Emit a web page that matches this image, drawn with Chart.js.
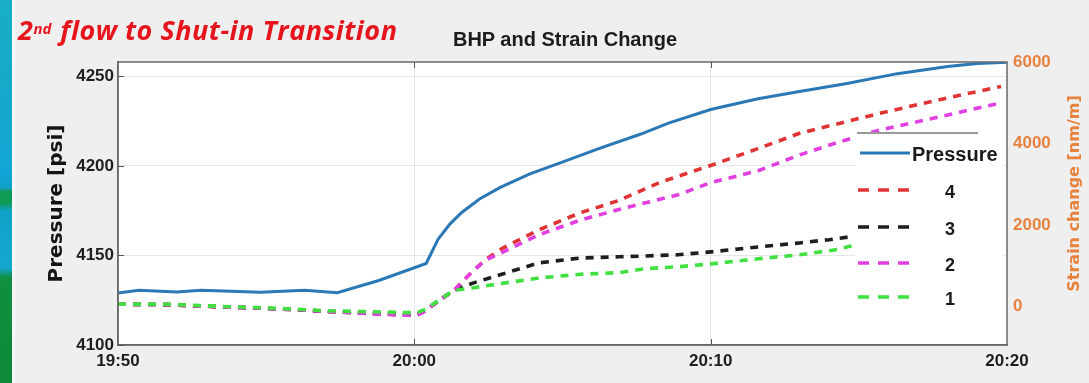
<!DOCTYPE html>
<html>
<head>
<meta charset="utf-8">
<script src="https://cdn.jsdelivr.net/npm/chart.js@4.4.1/dist/chart.umd.min.js"></script>
<style>
  html, body { margin: 0; padding: 0; background: #efefef; }
  #wrap { position: relative; width: 1089px; height: 383px; overflow: hidden; background: #efefef; }
  #strip {
    position: absolute; left: 0; top: 0; width: 12px; height: 383px;
    background: linear-gradient(to bottom, #17aec6 0%, #15a8cc 30%, #12a6d6 45%, #10a0c8 49%, #0f9a56 50%, #0f9a56 53%, #10a3c6 55%, #14a6d0 70%, #0f8f40 72.5%, #0e8a38 100%);
  }
  #edge { position: absolute; left: 12px; top: 0; width: 3px; height: 383px; background: #f8f8f8; }
  #slideTitle {
    position: absolute; left: 18px; top: 16px; white-space: nowrap;
    font: italic bold 27px "Open Sans", "Liberation Sans", sans-serif; line-height: 27px;
    color: #e6141d; letter-spacing: 0.5px;
  }
  #slideTitle sup { font-size: 15px; position: relative; top: -1px; vertical-align: top; margin-right: 9px; letter-spacing: 0; }
  #chartTitle {
    position: absolute; left: 565px; top: 30px; transform: translateX(-50%); white-space: nowrap;
    font: bold 20px "Liberation Sans", Arial, sans-serif; line-height: 19px; color: #1c1c1c;
  }
  canvas { position: absolute; left: 0; top: 0; }
</style>
</head>
<body>
<div id="wrap">
  <canvas id="c" width="1089" height="383"></canvas>
  <div id="strip"></div>
  <div id="edge"></div>
  <div id="slideTitle">2<sup>nd</sup>flow to Shut-in Transition</div>
  <div id="chartTitle">BHP and Strain Change</div>
</div>
<script>
// Time axis: minutes after 19:50
const timeLabels = ['19:50', '20:00', '20:10', '20:20'];
const timeTicks = [0, 10, 20, 30];
const pressureTicks = [4100, 4150, 4200, 4250];
const strainTicks = [0, 2000, 4000, 6000];

// Bottom-hole pressure [psi]
const pressureTime = [0, 0.7, 2.0, 2.8, 4.8, 6.3, 7.4, 8.8, 10.4, 10.8, 11.2, 11.6, 12.2, 12.9, 13.9, 14.9, 16.2, 17.6, 18.6, 20.0, 21.6, 23.0, 24.6, 26.3, 28.0, 29.0, 30.0];
const pressurePsi  = [4129.0, 4130.6, 4129.6, 4130.5, 4129.5, 4130.6, 4129.2, 4136.0, 4145.5, 4159.0, 4167.5, 4174.0, 4181.5, 4188.0, 4195.5, 4201.5, 4209.5, 4217.5, 4224.0, 4231.5, 4237.5, 4241.5, 4246.0, 4251.5, 4255.5, 4257.2, 4257.8];

// Strain change [nm/m] per gauge
const strainTime4 = [0, 1.7, 2.8, 4.8, 5.9, 6.9, 7.9, 8.9, 9.6, 10.1, 10.4, 10.8, 11.35, 11.85, 12.4, 13.0, 14.2, 15.6, 16.9, 18.3, 20.0, 21.5, 23.0, 25.7, 28.0, 29.8];
const strain4     = [55, 45, 10, -40, -75, -115, -150, -180, -200, -205, -90, 130, 400, 780, 1150, 1440, 1880, 2300, 2600, 3050, 3460, 3850, 4250, 4740, 5120, 5400];

const strainTime3 = [0, 1.7, 2.8, 4.8, 5.9, 6.9, 7.9, 8.9, 9.6, 10.1, 10.4, 10.8, 11.35, 12.0, 12.9, 14.2, 15.6, 16.9, 17.8, 18.9, 20.0, 21.6, 23.0, 24.0, 24.8];
const strain3     = [55, 45, 10, -40, -75, -115, -150, -180, -200, -205, -90, 130, 400, 580, 780, 1070, 1190, 1220, 1240, 1270, 1340, 1460, 1560, 1640, 1720];

const strainTime2 = [0, 1.7, 2.8, 4.8, 5.9, 6.9, 7.9, 8.9, 9.6, 10.1, 10.4, 10.8, 11.35, 11.85, 12.4, 13.0, 14.2, 15.6, 16.9, 18.0, 18.9, 20.0, 21.6, 23.0, 24.3, 25.7, 28.0, 29.8];
const strain2     = [55, 45, 10, -40, -75, -115, -150, -190, -215, -215, -95, 130, 400, 780, 1140, 1340, 1760, 2120, 2380, 2580, 2740, 3040, 3330, 3720, 4030, 4330, 4700, 5000];

const strainTime1 = [0, 1.7, 2.8, 4.3, 4.8, 5.9, 6.9, 7.9, 8.9, 9.6, 10.1, 10.4, 10.8, 11.35, 12.0, 12.9, 14.2, 15.6, 16.9, 17.8, 18.9, 20.0, 21.6, 23.0, 24.3, 24.8];
const strain1     = [60, 55, 22, -20, -29, -61, -100, -120, -135, -150, -150, -60, 140, 400, 460, 560, 700, 790, 830, 930, 975, 1045, 1170, 1270, 1400, 1500];

const legendOrder = ['Pressure', '4', '3', '2', '1'];

function pts(ts, vs) { return ts.map((t, i) => ({ x: t, y: vs[i] })); }

const dashed = { borderWidth: 3.6, borderDash: [8, 7], pointRadius: 0, tension: 0, yAxisID: 'yS', fill: false };

// First dataset is painted last, so it ends up on top
const datasets = [
  { label: 'Pressure', data: pts(pressureTime, pressurePsi), borderColor: '#2b78b6', borderWidth: 3, pointRadius: 0, tension: 0, yAxisID: 'yP', fill: false },
  Object.assign({ label: '1', data: pts(strainTime1, strain1), borderColor: '#3fe03f' }, dashed),
  Object.assign({ label: '2', data: pts(strainTime2, strain2), borderColor: '#e23fe2' }, dashed),
  Object.assign({ label: '3', data: pts(strainTime3, strain3), borderColor: '#1e1e1e' }, dashed),
  Object.assign({ label: '4', data: pts(strainTime4, strain4), borderColor: '#e03434' }, dashed)
];

const tickFont = { family: '"Liberation Sans", Arial, sans-serif', weight: 'bold', size: 17 };
const strainColor = '#e8823f';
const strainTitle = 'Strain change [nm/m]';
const plainNumber = v => String(v);

const framePlugin = {
  id: 'frame',
  beforeDraw(chart) {
    const { ctx, chartArea: a } = chart;
    ctx.save();
    ctx.fillStyle = '#ffffff';
    ctx.fillRect(a.left, a.top, a.right - a.left, a.bottom - a.top);
    ctx.restore();
  },
  afterDatasetsDraw(chart) {
    const { ctx, chartArea: a, scales } = chart;
    ctx.save();
    // box around the plot
    ctx.strokeStyle = '#6a6a6a';
    ctx.lineWidth = 1.5;
    ctx.strokeRect(a.left, a.top, a.right - a.left, a.bottom - a.top);
    // inward tick marks
    ctx.strokeStyle = '#555';
    ctx.lineWidth = 1;
    ctx.beginPath();
    pressureTicks.forEach(v => {
      const y = Math.round(scales.yP.getPixelForValue(v)) + 0.5;
      ctx.moveTo(a.left, y); ctx.lineTo(a.left + 6, y);
    });
    timeTicks.slice(1, -1).forEach(v => {
      const x = Math.round(scales.x.getPixelForValue(v)) + 0.5;
      ctx.moveTo(x, a.bottom); ctx.lineTo(x, a.bottom - 6);
      ctx.moveTo(x, a.top); ctx.lineTo(x, a.top + 6);
    });
    ctx.stroke();

    // legend panel
    const bx = a.right - 152, by = a.top + 71, bw = 148, bh = 182;
    ctx.fillStyle = '#ffffff';
    ctx.fillRect(bx, by, bw, bh);
    ctx.strokeStyle = '#9a9a9a';
    ctx.lineWidth = 2;
    ctx.beginPath();
    ctx.moveTo(bx + 2, by); ctx.lineTo(bx + 123, by);
    ctx.stroke();

    const rowY = [153, 190, 227, 263, 297].map(v => v - 133 + by);
    legendOrder.forEach((name, i) => {
      const ds = chart.data.datasets.find(d => d.label === name);
      const y = rowY[i];
      ctx.strokeStyle = ds.borderColor;
      ctx.lineWidth = ds.borderWidth;
      ctx.beginPath();
      if (ds.borderDash) {
        ctx.setLineDash([11, 9]);
        ctx.moveTo(bx + 3, y); ctx.lineTo(bx + 56, y);
      } else {
        ctx.setLineDash([]);
        ctx.moveTo(bx + 5, y); ctx.lineTo(bx + 55, y);
      }
      ctx.stroke();
      ctx.setLineDash([]);
      ctx.fillStyle = '#1a1a1a';
      ctx.textBaseline = 'middle';
      if (name === 'Pressure') {
        ctx.font = 'bold 20px "Liberation Sans", Arial, sans-serif';
        ctx.textAlign = 'left';
        ctx.fillText(name, bx + 57, y + 2);
      } else {
        ctx.font = 'bold 18px "Liberation Sans", Arial, sans-serif';
        ctx.textAlign = 'center';
        ctx.fillText(name, bx + 95, y + 3);
      }
    });
    ctx.restore();
  },
  afterDraw(chart) {
    const { ctx, chartArea: a } = chart;
    ctx.save();
    ctx.translate(1075, (a.top + a.bottom) / 2 - 10);
    ctx.rotate(-Math.PI / 2);
    ctx.font = '600 16px "DejaVu Sans", sans-serif';
    ctx.fillStyle = strainColor;
    ctx.textAlign = 'center';
    ctx.textBaseline = 'middle';
    ctx.fillText(strainTitle, 0, 0);
    ctx.restore();
  }
};

new Chart(document.getElementById('c'), {
  type: 'line',
  data: { datasets },
  options: {
    responsive: false,
    animation: false,
    devicePixelRatio: 1,
    layout: { padding: { top: 62, left: 0, right: 0, bottom: 0 } },
    plugins: { legend: { display: false }, tooltip: { enabled: false }, title: { display: false } },
    scales: {
      x: {
        type: 'linear', min: 0, max: 30,
        afterFit(s) { s.height = 38; },
        afterBuildTicks(s) { s.ticks = timeTicks.map(v => ({ value: v })); },
        ticks: { callback: v => timeLabels[timeTicks.indexOf(v)], font: tickFont, color: '#1e1e1e', padding: 6, maxRotation: 0, autoSkip: false },
        grid: { color: '#e6e6e6', lineWidth: 1, drawTicks: false },
        border: { display: true, color: '#6a6a6a', width: 1.5 }
      },
      yP: {
        type: 'linear', position: 'left', min: 4100, max: 4258,
        afterFit(s) { s.width = 118; },
        afterBuildTicks(s) { s.ticks = pressureTicks.map(v => ({ value: v })); },
        ticks: { callback: plainNumber, font: tickFont, color: '#1e1e1e', padding: 4, autoSkip: false },
        grid: { color: '#e6e6e6', lineWidth: 1, drawTicks: false },
        border: { display: true, color: '#6a6a6a', width: 1.5 },
        title: { display: true, text: 'Pressure [psi]', color: '#141414', font: { family: '"DejaVu Sans", sans-serif', weight: 'bold', size: 20 }, padding: { top: 45, bottom: 0 } }
      },
      yS: {
        type: 'linear', position: 'right', min: -945, max: 6000,
        afterFit(s) { s.width = 82; },
        afterBuildTicks(s) { s.ticks = strainTicks.map(v => ({ value: v })); },
        ticks: { callback: plainNumber, font: tickFont, color: strainColor, padding: 6, autoSkip: false },
        grid: { display: false, drawTicks: false },
        border: { display: false }
      }
    }
  },
  plugins: [framePlugin]
});
</script>
</body>
</html>
